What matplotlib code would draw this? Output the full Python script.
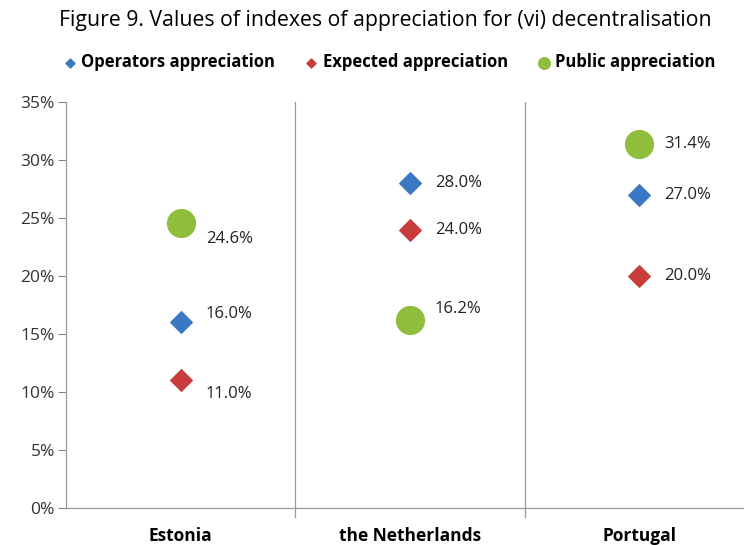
import matplotlib.pyplot as plt
import numpy as np

countries = ['Estonia', 'the Netherlands', 'Portugal']
operators = [16.0, 28.0, 27.0]
expected = [11.0, 24.0, 20.0]
public = [24.6, 16.2, 31.4]
yticks = [0, 5, 10, 15, 20, 25, 30, 35]

# label offsets in points (dx, dy) per series per country
off_op = [(18, 6), (18, 0), (18, 0)]
off_ex = [(18, -10), (18, 0), (18, 0)]
off_pu = [(18, -12), (18, 8), (18, 0)]

plt.rcParams['font.family'] = ['Open Sans', 'DejaVu Sans']

fig = plt.figure(figsize=(7.44, 5.45), dpi=100)
ax = fig.add_axes([66 / 744, 37 / 545, 688 / 744, 406 / 545])

x = np.arange(len(countries))
blue, red, green = '#3b78c4', '#c83c3c', '#8fbd3c'

ax.scatter(x, operators, marker='D', s=120, color=blue, zorder=3,
           label='Operators appreciation')
ax.scatter(x, expected, marker='D', s=120, color=red, zorder=3,
           label='Expected appreciation')
ax.scatter(x, public, marker='o', s=400, color=green, zorder=3,
           label='Public appreciation')

for vals, offs in [(operators, off_op), (expected, off_ex), (public, off_pu)]:
    for i, v in enumerate(vals):
        ax.annotate('%.1f%%' % v, (x[i], v), xytext=offs[i],
                    textcoords='offset points', ha='left', va='center',
                    fontsize=12, color='#222222')

ax.set_xlim(-0.5, 2.5)
ax.set_ylim(0, 35)
ax.set_yticks(yticks)
ax.set_yticklabels(['%d%%' % t for t in yticks], fontsize=12.5, color='#333333')
ax.set_xticks(x)
ax.set_xticklabels(countries, fontsize=12.5, fontweight='bold')
ax.tick_params(axis='x', length=0, pad=14)
ax.tick_params(axis='y', length=6, color='#888888', direction='out', pad=2)

for b in [0.5, 1.5]:
    ax.axvline(b, color='#999999', lw=0.9, zorder=1)
    ax.plot([b, b], [0, -0.8], color='#999999', lw=0.9, clip_on=False)

for s in ['top', 'right']:
    ax.spines[s].set_visible(False)
for s in ['left', 'bottom']:
    ax.spines[s].set_color('#999999')
    ax.spines[s].set_linewidth(0.9)

fig.text(0.518, 0.963, 'Figure 9. Values of indexes of appreciation for (vi) decentralisation',
         ha='center', va='center', fontsize=15.3)

leg = fig.legend(loc='center', bbox_to_anchor=(0.52, 0.886), ncol=3, frameon=False,
                 prop={'weight': 'bold', 'size': 12}, handletextpad=0.0,
                 columnspacing=1.45, markerscale=0.42, handlelength=1.4)

fig.savefig('out.png', dpi=100)
